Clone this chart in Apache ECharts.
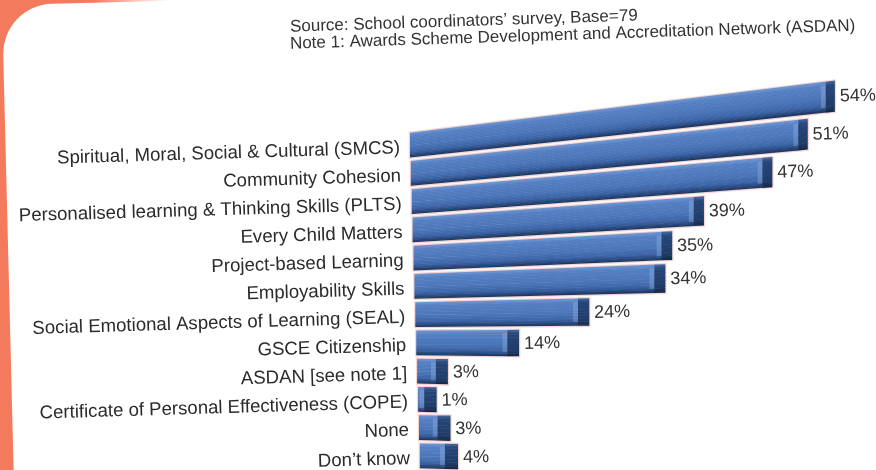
<!DOCTYPE html>
<html>
<head>
<meta charset="utf-8">
<style>
  html, body { margin: 0; padding: 0; background: #ffffff; }
  #chart { width: 876px; height: 470px; }
</style>
<script src="https://cdn.jsdelivr.net/npm/echarts/dist/echarts.min.js"></script>
</head>
<body>
<div id="chart"></div>
<script>
// Survey results: share of schools (%) by programme
const categories = [
  'Spiritual, Moral, Social & Cultural (SMCS)',
  'Community Cohesion',
  'Personalised learning & Thinking Skills (PLTS)',
  'Every Child Matters',
  'Project-based Learning',
  'Employability Skills',
  'Social Emotional Aspects of Learning (SEAL)',
  'GSCE Citizenship',
  'ASDAN [see note 1]',
  'Certificate of Personal Effectiveness (COPE)',
  'None',
  'Don\u2019t know'
];
const values = [54, 51, 47, 39, 35, 34, 24, 14, 3, 1, 3, 4];
const sourceLines = [
  'Source: School coordinators\u2019 survey, Base=79',
  'Note 1: Awards Scheme Development and Accreditation Network (ASDAN)'
];

const ORANGE = '#f47a5e';
const FONT = '"Liberation Sans", Arial, sans-serif';
const TILT_TEXT = 0.03;        // page tilt for the text, radians

// Perspective of the 3D bars: rows converge toward a point far to the left,
// bars grow thicker and more stretched as they come toward the viewer (right).
const PERSP_A = 0.843;         // screen px per flat px at the bar root
const PERSP_B = 0.000498;      // foreshortening along the bar
const PERSP_DEPTH = 1690;      // thickness growth along the bar
const TILT_K = 0.000592;       // row slope per px above the horizon row
const HORIZON_ROW = 6.9;       // row index where bars run level

// Shading across the bar face, top to bottom
const bodyShade = [
  [0.00, [112, 152, 210]],
  [0.14, [86, 128, 196]],
  [0.55, [74, 117, 184]],
  [0.78, [60, 100, 166]],
  [0.90, [40, 74, 128]],
  [1.00, [26, 50, 88]]
];
const capShade = [
  [0.00, [70, 104, 160]],
  [0.15, [38, 70, 120]],
  [0.80, [32, 60, 104]],
  [1.00, [20, 38, 68]]
];

function shadeAt(stops, f) {
  for (let k = 1; k < stops.length; k++) {
    if (f <= stops[k][0]) {
      const [f0, c0] = stops[k - 1];
      const [f1, c1] = stops[k];
      const t = (f - f0) / (f1 - f0);
      const c = c0.map((a, j) => Math.round(a + (c1[j] - a) * t));
      return 'rgb(' + c.join(',') + ')';
    }
  }
  return 'rgb(' + stops[stops.length - 1][1].join(',') + ')';
}

const STRIPS = 18;

function renderBar(params, api) {
  const v = api.value(0);
  const i = api.value(1);
  const base = api.coord([0, i]);
  const end = api.coord([v, i]);
  const band = api.size([0, 1])[1];
  const firstRow = api.coord([0, 0])[1];
  const horizon = firstRow + HORIZON_ROW * band;

  const row = base[1];
  const h = band * 0.88;
  const xL = base[0] + i * 0.9;
  const slope = Math.max(-0.02, TILT_K * (horizon - row));
  const u = end[0] - base[0];
  const dEnd = PERSP_A * u / (1 - PERSP_B * u);
  const capW = 9 + 4 * i / (categories.length - 1);

  const pt = (d, f) => [xL + d, row - slope * d + (f - 0.5) * h * (1 + d / PERSP_DEPTH)];
  const quad = (d0, d1, f0, f1) => [pt(d0, f0), pt(d1, f0), pt(d1, f1), pt(d0, f1)];

  const children = [];
  // soft reddish fringe around the bar
  children.push({
    type: 'polygon',
    shape: { points: quad(0, dEnd + capW, 0, 1) },
    style: { fill: 'none', stroke: 'rgba(236,170,165,0.5)', lineWidth: 2.5 },
    silent: true
  });
  for (let s = 0; s < STRIPS; s++) {
    const f0 = s / STRIPS, f1 = (s + 1) / STRIPS;
    children.push({
      type: 'polygon',
      shape: { points: quad(0, dEnd + 0.5, f0, Math.min(1, f1 + 0.02)) },
      style: { fill: shadeAt(bodyShade, (f0 + f1) / 2) }
    });
  }
  // light edge just before the end face
  children.push({
    type: 'polygon',
    shape: { points: quad(Math.max(0, dEnd - 5), dEnd, 0.12, 0.85) },
    style: { fill: 'rgba(170,196,232,0.3)' }
  });
  for (let s = 0; s < STRIPS; s++) {
    const f0 = s / STRIPS, f1 = (s + 1) / STRIPS;
    children.push({
      type: 'polygon',
      shape: { points: quad(dEnd, dEnd + capW, f0, Math.min(1, f1 + 0.02)) },
      style: { fill: shadeAt(capShade, (f0 + f1) / 2) }
    });
  }
  // value label
  const lp = pt(dEnd + capW + 5, 0.5);
  children.push({
    type: 'text',
    x: lp[0], y: lp[1] + 1,
    rotation: TILT_TEXT,
    style: {
      text: v + '%', x: 0, y: 0,
      align: 'left', verticalAlign: 'middle',
      font: '18px ' + FONT, fill: '#333333'
    }
  });
  // category label
  children.push({
    type: 'text',
    x: xL - 10, y: row + 3,
    rotation: TILT_TEXT,
    style: {
      text: categories[i], x: 0, y: 0,
      align: 'right', verticalAlign: 'middle',
      font: '18.6px ' + FONT, fill: '#2b2b2b'
    }
  });
  return { type: 'group', children };
}

const chart = echarts.init(document.getElementById('chart'), null, { renderer: 'canvas' });

chart.setOption({
  backgroundColor: '#ffffff',
  animation: false,
  grid: { left: 410, top: 131, width: 440, height: 339 },
  xAxis: { type: 'value', min: 0, max: 60, show: false },
  yAxis: { type: 'category', data: categories, inverse: true, show: false },
  graphic: [
    // orange page border on the left
    { type: 'rect', x: 0, y: 0, shape: { width: 90, height: 470 }, style: { fill: ORANGE }, z: -10 },
    {
      type: 'rect', x: 0, y: 0, shape: { width: 170, height: 14 },
      style: {
        fill: new echarts.graphic.LinearGradient(0, 0, 1, 0, [
          { offset: 0, color: ORANGE },
          { offset: 0.55, color: ORANGE },
          { offset: 1, color: 'rgba(244,122,94,0)' }
        ])
      },
      z: -10
    },
    // white card, slightly tilted
    {
      type: 'rect', x: 2, y: 5, rotation: 0.025,
      shape: { x: 0, y: 0, width: 1400, height: 900, r: 50 },
      style: { fill: '#ffffff' }, z: -9
    },
    {
      type: 'text', x: 290, y: 27, rotation: 0.032,
      style: { text: sourceLines[0], font: '17px ' + FONT, fill: '#333333', verticalAlign: 'middle' }
    },
    {
      type: 'text', x: 290, y: 44, rotation: 0.032,
      style: { text: sourceLines[1], font: '17px ' + FONT, fill: '#333333', verticalAlign: 'middle' }
    }
  ],
  series: [{
    type: 'custom',
    renderItem: renderBar,
    encode: { x: 0, y: 1 },
    data: values.map((v, i) => [v, i]),
    clip: false
  }]
});
</script>
</body>
</html>
